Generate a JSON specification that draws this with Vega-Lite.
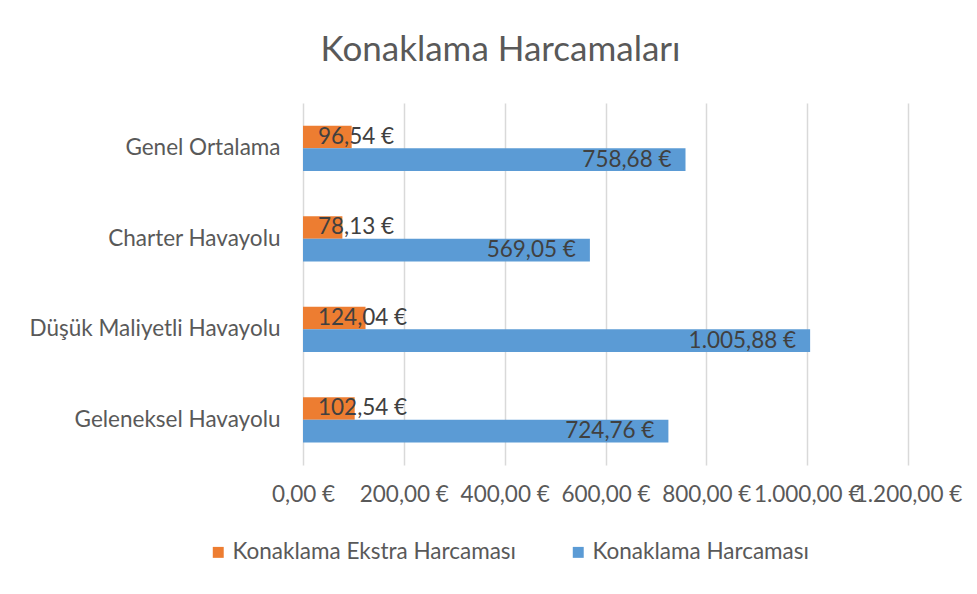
{
  "$schema": "https://vega.github.io/schema/vega-lite/v6.json",
  "width": 605,
  "height": 362,
  "autosize": {"type": "none"},
  "padding": {"left": 303, "top": 103, "right": 69, "bottom": 129},
  "background": "white",
  "config": {
    "locale": {"number": {"decimal": ",", "thousands": ".", "grouping": [3], "currency": ["", " €"]}},
    "font": "Lato",
    "view": {"stroke": null}
  },
  "title": {"text": "Konaklama Harcamaları", "fontSize": 35, "font": "Lato", "fontWeight": "normal", "color": "#595959", "anchor": "middle", "dx": -105, "offset": 35},
  "data": {"values": [
    {"cat": "Genel Ortalama", "series": "Konaklama Ekstra Harcaması", "value": 96.54},
    {"cat": "Genel Ortalama", "series": "Konaklama Harcaması", "value": 758.68},
    {"cat": "Charter Havayolu", "series": "Konaklama Ekstra Harcaması", "value": 78.13},
    {"cat": "Charter Havayolu", "series": "Konaklama Harcaması", "value": 569.05},
    {"cat": "Düşük Maliyetli Havayolu", "series": "Konaklama Ekstra Harcaması", "value": 124.04},
    {"cat": "Düşük Maliyetli Havayolu", "series": "Konaklama Harcaması", "value": 1005.88},
    {"cat": "Geleneksel Havayolu", "series": "Konaklama Ekstra Harcaması", "value": 102.54},
    {"cat": "Geleneksel Havayolu", "series": "Konaklama Harcaması", "value": 724.76}
  ]},
  "encoding": {
    "y": {
      "field": "cat", "type": "nominal",
      "sort": ["Genel Ortalama", "Charter Havayolu", "Düşük Maliyetli Havayolu", "Geleneksel Havayolu"],
      "scale": {"paddingInner": 0.5, "paddingOuter": 0.25},
      "axis": {"title": null, "domain": false, "ticks": false, "labelFontSize": 22.5, "labelColor": "#595959", "labelPadding": 23, "labelLimit": 0}
    },
    "yOffset": {"field": "series", "type": "nominal", "sort": ["Konaklama Ekstra Harcaması", "Konaklama Harcaması"]}
  },
  "layer": [
    {
      "mark": {"type": "bar"},
      "encoding": {
        "x": {
          "field": "value", "type": "quantitative",
          "scale": {"domain": [0, 1200]},
          "axis": {"title": null, "domain": false, "ticks": false, "values": [0, 200, 400, 600, 800, 1000, 1200], "format": "$,.2f", "labelFontSize": 22.5, "labelColor": "#595959", "labelPadding": 18, "gridColor": "#d9d9d9", "gridWidth": 1.5, "labelOverlap": false, "labelFlush": false, "labelLimit": 0}
        },
        "color": {
          "field": "series", "type": "nominal",
          "scale": {"domain": ["Konaklama Ekstra Harcaması", "Konaklama Harcaması"], "range": ["#ED7D31", "#5B9BD5"]},
          "legend": {"title": null, "orient": "none", "legendX": -96, "legendY": 438, "direction": "horizontal", "symbolType": "square", "symbolSize": 120, "symbolStrokeWidth": 0, "labelFontSize": 22.5, "labelColor": "#595959", "columnPadding": 50, "labelOffset": 3, "labelLimit": 0}
        }
      }
    },
    {
      "transform": [{"filter": "datum.series === 'Konaklama Ekstra Harcaması'"}],
      "mark": {"type": "text", "align": "left", "dx": 15, "fontSize": 22.5, "color": "#404040"},
      "encoding": {
        "x": {"datum": 0, "type": "quantitative"},
        "text": {"field": "value", "type": "quantitative", "format": "$,.2f"}
      }
    },
    {
      "transform": [{"filter": "datum.series === 'Konaklama Harcaması'"}],
      "mark": {"type": "text", "align": "right", "dx": -14, "fontSize": 22.5, "color": "#404040"},
      "encoding": {
        "x": {"field": "value", "type": "quantitative"},
        "text": {"field": "value", "type": "quantitative", "format": "$,.2f"}
      }
    }
  ]
}
